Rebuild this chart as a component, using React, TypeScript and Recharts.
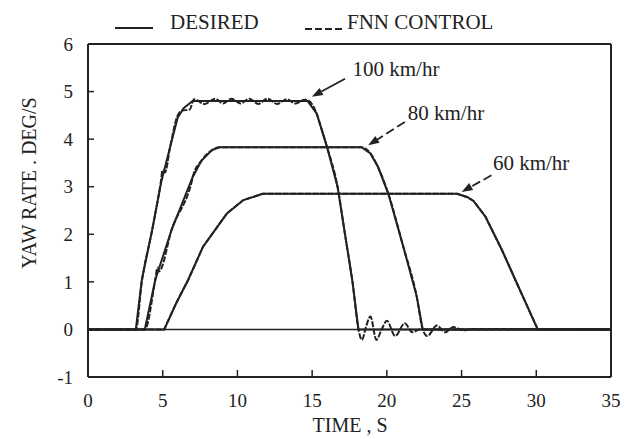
import React from 'react';
import { LineChart, Line, XAxis, YAxis, ReferenceLine, ReferenceDot } from 'recharts';

// desired yaw rate (solid) and FNN control (dashed), time in s, rate in deg/s
const desired100T = [0, 3.2, 3.6, 4.3, 4.9, 5.5, 6.0, 6.4, 7.0, 14.7, 15.3, 15.65, 16.0, 16.7, 17.2, 17.7, 18.1, 35];
const desired100V = [0, 0, 1.04, 2.1, 3.1, 3.84, 4.45, 4.65, 4.8, 4.8, 4.54, 4.19, 3.83, 3.0, 2.0, 1.0, 0, 0];
const desired80T = [0, 3.8, 4.5, 5.6, 7.0, 7.6, 8.3, 8.8, 18.3, 18.9, 19.4, 20.1, 21.1, 22.0, 22.4, 35];
const desired80V = [0, 0, 1.04, 2.1, 3.2, 3.55, 3.77, 3.83, 3.83, 3.7, 3.42, 2.85, 1.74, 0.69, 0, 0];
const desired60T = [0, 5.1, 5.9, 6.7, 7.7, 9.3, 10.4, 11.7, 24.7, 25.4, 25.8, 26.6, 27.7, 28.7, 30.1, 35];
const desired60V = [0, 0, 0.55, 1.04, 1.74, 2.44, 2.72, 2.85, 2.85, 2.78, 2.7, 2.37, 1.67, 0.97, 0, 0];

const fnn100T = [0, 3.2, 3.6, 4.3, 4.85, 5.0, 5.15, 5.5, 6.0, 6.3, 6.8, 7.1, 7.8, 8.5, 9.05, 9.6, 10.2, 10.8, 11.4, 12.0, 12.65, 13.3, 13.9, 14.5, 14.7, 15.3, 15.65, 16.0, 16.7, 17.2, 17.7, 18.1, 18.33, 18.6, 18.9, 19.3, 19.65, 20.0, 20.56, 21.2, 21.7, 22.2, 35];
const fnn100V = [0, 0, 1.0, 2.1, 3.05, 3.35, 3.3, 3.84, 4.5, 4.6, 4.62, 4.84, 4.74, 4.85, 4.75, 4.85, 4.75, 4.85, 4.74, 4.85, 4.74, 4.84, 4.75, 4.83, 4.82, 4.54, 4.19, 3.83, 3.0, 2.0, 1.0, 0, -0.22, 0.05, 0.27, -0.22, 0.0, 0.18, -0.14, 0.13, -0.06, 0, 0];
const fnn80T = [0, 3.8, 4.5, 4.65, 4.75, 5.6, 6.95, 7.05, 7.6, 8.3, 8.8, 18.3, 18.9, 19.4, 20.1, 21.1, 22.0, 22.4, 22.7, 23.35, 23.9, 24.45, 25.1, 25.7, 35];
const fnn80V = [0, 0, 1.04, 1.3, 1.22, 2.1, 3.12, 3.25, 3.55, 3.77, 3.83, 3.83, 3.7, 3.42, 2.85, 1.74, 0.69, 0, -0.14, 0.08, -0.06, 0.05, -0.02, 0.01, 0];
const fnn60T = desired60T;
const fnn60V = desired60V;

// annotations
const annoLabels = ['100 km/hr', '80 km/hr', '60 km/hr'];
const annoTextT = [17.7, 21.4, 27.1];
const annoTextV = [5.49, 4.55, 3.5];
const arrowFromT = [17.2, 21.2, 27.0];
const arrowFromV = [5.27, 4.36, 3.24];
const arrowToT = [14.98, 18.75, 25.0];
const arrowToV = [4.89, 3.87, 2.89];
const arrowDashed = [false, true, true];

const xTicks = [0, 5, 10, 15, 20, 25, 30, 35];
const yTicks = [-1, 0, 1, 2, 3, 4, 5, 6];

const INK = '#222';
const FONT = "'Liberation Serif', 'Times New Roman', serif";
const txt = (size: number) => ({ fontFamily: FONT, fontSize: size });

const zip = (t: number[], v: number[]) => t.map((x, i) => ({ t: x, v: v[i] }));

const XTick = (props: any) => {
  const { x, y, payload } = props;
  return (
    <g>
      <line x1={x} y1={y} x2={x} y2={y - 7} stroke={INK} strokeWidth={1.5} />
      <text x={x} y={y + 30} textAnchor="middle" style={txt(19)} fill={INK}>
        {payload.value}
      </text>
    </g>
  );
};

const YTick = (props: any) => {
  const { x, y, payload } = props;
  return (
    <g>
      <line x1={x} y1={y} x2={x + 6} y2={y} stroke={INK} strokeWidth={1.5} />
      <text x={x - 15} y={y} dy="0.35em" textAnchor="end" style={txt(19)} fill={INK}>
        {payload.value}
      </text>
    </g>
  );
};

const arrowShape = (dashed: boolean) => (p: any) => {
  const { x1, y1, x2, y2 } = p;
  const ang = Math.atan2(y2 - y1, x2 - x1);
  const L = 11;
  const W = 4;
  const bx = x2 - L * Math.cos(ang);
  const by = y2 - L * Math.sin(ang);
  const px = -Math.sin(ang) * W;
  const py = Math.cos(ang) * W;
  return (
    <g>
      <line x1={x1} y1={y1} x2={bx} y2={by} stroke={INK} strokeWidth={1.8} strokeDasharray={dashed ? '9 4' : undefined} />
      <polygon points={`${x2},${y2} ${bx + px},${by + py} ${bx - px},${by - py}`} fill={INK} />
    </g>
  );
};

const labelShape = (text: string) => (p: any) => (
  <text x={p.cx} y={p.cy} dy="0.35em" style={txt(21)} fill={INK}>
    {text}
  </text>
);

const series = [
  { key: 'd100', data: zip(desired100T, desired100V), dash: undefined, curve: 'linear' },
  { key: 'd80', data: zip(desired80T, desired80V), dash: undefined, curve: 'linear' },
  { key: 'd60', data: zip(desired60T, desired60V), dash: undefined, curve: 'linear' },
  { key: 'f100', data: zip(fnn100T, fnn100V), dash: '6 1.5', curve: 'monotone' },
  { key: 'f80', data: zip(fnn80T, fnn80V), dash: '6 1.5', curve: 'monotone' },
  { key: 'f60', data: zip(fnn60T, fnn60V), dash: '6 1.5', curve: 'linear' },
];

export default function App() {
  return (
    <div style={{ position: 'absolute', left: 0, top: 0, width: 625, height: 439, background: '#fff', fontFamily: FONT }}>
      <LineChart width={625} height={439} margin={{ top: 44, right: 14, left: 0, bottom: 0 }}>
        <XAxis
          type="number"
          dataKey="t"
          domain={[0, 35]}
          ticks={xTicks}
          allowDataOverflow
          height={62}
          tickSize={0}
          tickMargin={0}
          tick={<XTick />}
          axisLine={{ stroke: INK, strokeWidth: 2 }}
        />
        <YAxis
          type="number"
          dataKey="v"
          domain={[-1, 6]}
          ticks={yTicks}
          allowDataOverflow
          width={88}
          tickSize={0}
          tickMargin={0}
          tick={<YTick />}
          axisLine={{ stroke: INK, strokeWidth: 2 }}
        />
        <ReferenceLine y={6} stroke={INK} strokeWidth={2} />
        <ReferenceLine x={35} stroke={INK} strokeWidth={2} />
        <ReferenceLine y={0} stroke={INK} strokeWidth={1.6} />
        {series.map((s) => (
          <Line
            key={s.key}
            data={s.data}
            dataKey="v"
            type={s.curve as any}
            stroke={INK}
            strokeWidth={2}
            strokeDasharray={s.dash}
            dot={false}
            activeDot={false}
            isAnimationActive={false}
          />
        ))}
        {annoLabels.map((lab, i) => (
          <ReferenceLine
            key={'a' + i}
            segment={[
              { x: arrowFromT[i], y: arrowFromV[i] },
              { x: arrowToT[i], y: arrowToV[i] },
            ]}
            shape={arrowShape(arrowDashed[i])}
          />
        ))}
        {annoLabels.map((lab, i) => (
          <ReferenceDot key={'l' + i} x={annoTextT[i]} y={annoTextV[i]} r={0} shape={labelShape(lab)} />
        ))}
      </LineChart>
      <svg width={625} height={439} style={{ position: 'absolute', left: 0, top: 0, pointerEvents: 'none' }}>
        <line x1={115} y1={28} x2={153} y2={28} stroke={INK} strokeWidth={2} />
        <text x={170} y={29} style={txt(21)} fill={INK}>DESIRED</text>
        <line x1={305} y1={29} x2={343} y2={29} stroke={INK} strokeWidth={2} strokeDasharray="7 3" />
        <text x={347} y={29} style={txt(21)} fill={INK}>FNN CONTROL</text>
        <text x={29} y={183} transform="rotate(-90 29 183)" dy="0.35em" textAnchor="middle" style={txt(20)} fill={INK}>
          YAW RATE . DEG/S
        </text>
        <text x={350} y={432} textAnchor="middle" style={txt(20)} fill={INK}>TIME , S</text>
      </svg>
    </div>
  );
}
